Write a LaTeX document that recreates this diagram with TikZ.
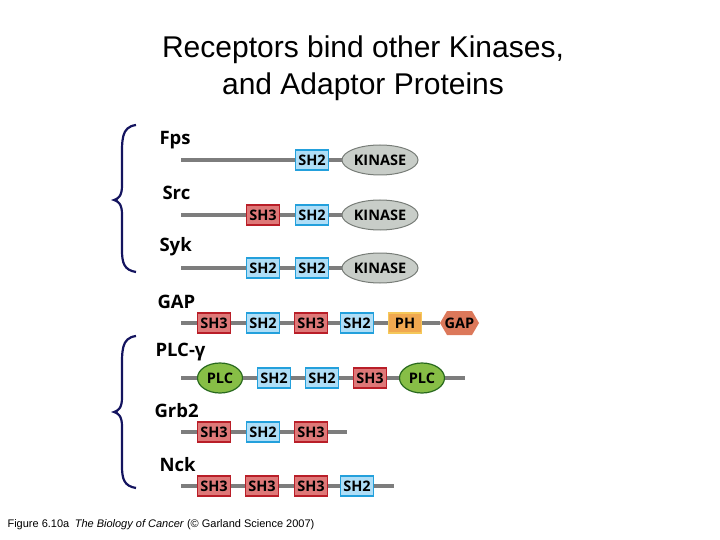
\documentclass[tikz,border=0pt]{standalone}
\usepackage{fontspec}
\setmainfont{Liberation Sans}
\newfontfamily\osb{Open Sans}
\usetikzlibrary{shapes.geometric}
\definecolor{shtwoF}{RGB}{175,222,247}\definecolor{shtwoD}{RGB}{35,160,220}
\definecolor{shthF}{RGB}{222,120,120}\definecolor{shthD}{RGB}{185,30,40}
\definecolor{kinF}{RGB}{200,205,200}\definecolor{kinD}{RGB}{120,125,120}
\definecolor{plcF}{RGB}{135,190,70}\definecolor{plcD}{RGB}{40,105,30}
\definecolor{phF}{RGB}{240,168,80}\definecolor{phD}{RGB}{245,200,90}
\definecolor{gapF}{RGB}{220,120,90}
\definecolor{bar}{RGB}{125,125,125}\definecolor{navy}{RGB}{20,20,95}
\begin{document}
\begin{tikzpicture}[x=1pt,y=-1pt,
 tf/.style={font=\osb\bfseries\fontsize{14.5}{14.5}\selectfont},
 dom/.style={tf,draw,line width=1.6pt,minimum width=33pt,minimum height=20pt,inner sep=0pt},
 sh2/.style={dom,fill=shtwoF,draw=shtwoD},
 sh3/.style={dom,fill=shthF,draw=shthD},
 ph/.style={dom,fill=phF,draw=phD},
 kin/.style={tf,ellipse,draw=kinD,fill=kinF,line width=1pt,minimum width=76pt,minimum height=30pt,inner sep=0pt},
 plc/.style={tf,ellipse,draw=plcD,fill=plcF,line width=1.2pt,minimum width=45pt,minimum height=30pt,inner sep=0pt},
 gap/.style={tf,minimum width=38pt,minimum height=24pt,inner sep=0pt},
 lbl/.style={anchor=west,font=\osb\bfseries\fontsize{18.5}{18.5}\selectfont},
 ln/.style={draw=bar,line width=4pt},
 brc/.style={draw=navy,line width=2.2pt}]
\useasboundingbox (0,0) rectangle (720,540);
\node (t1) at (363,50) {\fontsize{30}{30}\selectfont Receptors bind other Kinases,};
\node (t2) at (363,87) {\fontsize{30}{30}\selectfont and Adaptor Proteins};
\node[anchor=west] (cap) at (4,525) {\fontsize{11}{11}\selectfont Figure 6.10a\enspace\textit{The Biology of Cancer} (© Garland Science 2007)};
% braces
\path[brc] (136,125) .. controls (121,127) and (122,140) .. (122,160) -- (122,186) .. controls (122,196) and (118,199) .. (114,200) .. controls (118,201) and (122,204) .. (122,214) -- (122,250) .. controls (122,263) and (124,270) .. (136,272);
\path[brc] (136,336) .. controls (121,338) and (122,351) .. (122,371) -- (122,398) .. controls (122,408) and (118,411) .. (114,412) .. controls (118,413) and (122,416) .. (122,426) -- (122,466) .. controls (122,479) and (124,486) .. (136,488);
% Fps
\node[lbl] (lfps) at (156,140) {Fps};
\coordinate (fa) at (181,160);
\node[sh2] (f1) at (312,160) {SH2};
\node[kin] (fk) at (380,160) {KINASE};
\path[ln] (fa) -- (f1) (f1) -- (fk);
% Src
\node[lbl] (lsrc) at (159,193) {Src};
\coordinate (sa) at (181,215);
\node[sh3] (s1) at (263,215) {SH3};
\node[sh2] (s2) at (312,215) {SH2};
\node[kin] (sk) at (380,215) {KINASE};
\path[ln] (sa) -- (s1) (s1) -- (s2) (s2) -- (sk);
% Syk
\node[lbl] (lsyk) at (156,247) {Syk};
\coordinate (ya) at (181,268);
\node[sh2] (y1) at (263,268) {SH2};
\node[sh2] (y2) at (312,268) {SH2};
\node[kin] (yk) at (380,268) {KINASE};
\path[ln] (ya) -- (y1) (y1) -- (y2) (y2) -- (yk);
% GAP
\node[lbl] (lgap) at (154,302) {GAP};
\coordinate (ga) at (181,323);
\node[sh3] (g1) at (214,323) {SH3};
\node[sh2] (g2) at (263,323) {SH2};
\node[sh3] (g3) at (311,323) {SH3};
\node[sh2] (g4) at (357,323) {SH2};
\node[ph] (g5) at (405,323) {PH};
\path[fill=gapF] (440,323) -- (447,311) -- (472,311) -- (479,323) -- (472,335) -- (447,335) -- cycle;
\node[gap] (g6) at (459.5,323) {GAP};
\path[ln] (ga) -- (g1) (g1) -- (g2) (g2) -- (g3) (g3) -- (g4) (g4) -- (g5) (g5) -- (g6.west);
% PLC
\node[lbl] (lplc) at (152,352) {PLC-γ};
\coordinate (pa) at (181,378);
\coordinate (pz) at (465,378);
\node[plc] (p1) at (220,378) {PLC};
\node[sh2] (p2) at (274,378) {SH2};
\node[sh2] (p3) at (322,378) {SH2};
\node[sh3] (p4) at (370,378) {SH3};
\node[plc] (p5) at (422,378) {PLC};
\path[ln] (pa) -- (p1) (p1) -- (p2) (p2) -- (p3) (p3) -- (p4) (p4) -- (p5) (p5) -- (pz);
% Grb2
\node[lbl] (lgrb) at (151,411) {Grb2};
\coordinate (ra) at (181,432);
\coordinate (rz) at (347,432);
\node[sh3] (r1) at (214,432) {SH3};
\node[sh2] (r2) at (263,432) {SH2};
\node[sh3] (r3) at (311,432) {SH3};
\path[ln] (ra) -- (r1) (r1) -- (r2) (r2) -- (r3) (r3) -- (rz);
% Nck
\node[lbl] (lnck) at (156,465) {Nck};
\coordinate (na) at (181,486);
\coordinate (nz) at (394,486);
\node[sh3] (n1) at (214,486) {SH3};
\node[sh3] (n2) at (262,486) {SH3};
\node[sh3] (n3) at (311,486) {SH3};
\node[sh2] (n4) at (357,486) {SH2};
\path[ln] (na) -- (n1) (n1) -- (n2) (n2) -- (n3) (n3) -- (n4) (n4) -- (nz);
\end{tikzpicture}
\end{document}
